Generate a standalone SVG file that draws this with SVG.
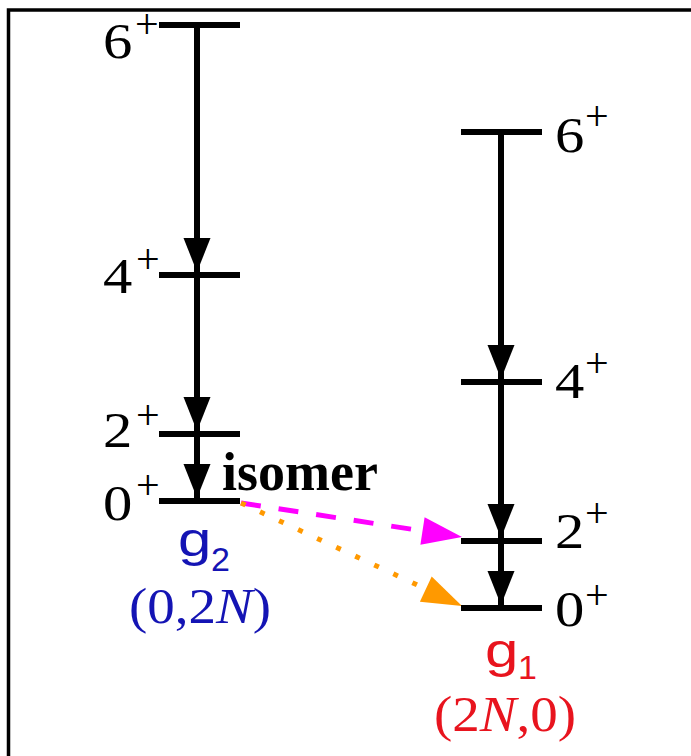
<svg xmlns="http://www.w3.org/2000/svg" width="691" height="756" viewBox="0 0 691 756">
<style>
.frame{fill:none;stroke:#000;stroke-width:3.5}
.lvl{stroke:#000;stroke-width:6;fill:none}
.tr{stroke:#000;stroke-width:6;fill:none}
.head{fill:#000}
.lbl{font-family:"Liberation Serif","Times New Roman",serif;font-size:51px;fill:#000}
.sup{font-family:"Liberation Serif","Times New Roman",serif;font-size:42px;fill:#000}
.iso{font-family:"Liberation Serif","Times New Roman",serif;font-size:54px;font-weight:bold;fill:#000}
.g{font-family:"Liberation Sans",Arial,sans-serif;font-size:48px}
.gs{font-family:"Liberation Sans",Arial,sans-serif;font-size:34px}
.q{font-family:"Liberation Serif","Times New Roman",serif;font-size:50px}
.blue{fill:#1414b4}
.red{fill:#e8141e}
</style>
<rect width="691" height="756" fill="#fff"/>
<path class="frame" d="M8.5,756 V10 H691"/>

<g id="connectors">
  <line class="tr" x1="197" y1="25" x2="197" y2="501"/>
  <polygon class="head" points="183.5,238 210.5,238 197,272"/>
  <polygon class="head" points="183.5,397 210.5,397 197,431"/>
  <polygon class="head" points="183.5,464 210.5,464 197,498"/>
  <line class="tr" x1="501" y1="132" x2="501" y2="608"/>
  <polygon class="head" points="487.5,345 514.5,345 501,379"/>
  <polygon class="head" points="487.5,504 514.5,504 501,538"/>
  <polygon class="head" points="487.5,571 514.5,571 501,605"/>
  <line x1="241" y1="503" x2="423" y2="531" stroke="#ff00ff" stroke-width="5" stroke-dasharray="20 18"/>
  <polygon points="462,537 424.6,517.2 420.4,544.8" fill="#ff00ff"/>
  <line x1="241" y1="503" x2="426" y2="589" stroke="#ff9900" stroke-width="5" stroke-dasharray="5 16"/>
  <polygon points="462,606 431.7,576.4 419.9,601.8" fill="#ff9900"/>
</g>

<g id="g2-6">
  <line class="lvl" x1="159" y1="25" x2="240" y2="25"/>
  <text class="lbl" transform="translate(103,58) scale(1.15,1)">6</text>
  <text class="sup" x="135" y="38">+</text>
</g>
<g id="g2-4">
  <line class="lvl" x1="159" y1="275" x2="240" y2="275"/>
  <text class="lbl" transform="translate(103,293) scale(1.15,1)">4</text>
  <text class="sup" x="136" y="273">+</text>
</g>
<g id="g2-2">
  <line class="lvl" x1="159" y1="434" x2="240" y2="434"/>
  <text class="lbl" transform="translate(103,447) scale(1.15,1)">2</text>
  <text class="sup" x="136" y="429">+</text>
</g>
<g id="g2-0">
  <line class="lvl" x1="159" y1="501" x2="240" y2="501"/>
  <text class="lbl" transform="translate(103,520) scale(1.15,1)">0</text>
  <text class="sup" x="136" y="499">+</text>
  <text class="iso" x="222" y="490">isomer</text>
  <text class="g blue" transform="translate(178,556) scale(1.25,1)">g</text>
  <text class="gs blue" x="211" y="571">2</text>
  <text class="q blue" transform="translate(129,623) scale(1.1,1)">(0,2<tspan font-style="italic">N</tspan>)</text>
</g>

<g id="g1-6">
  <line class="lvl" x1="461" y1="132" x2="542" y2="132"/>
  <text class="lbl" transform="translate(555,152) scale(1.15,1)">6</text>
  <text class="sup" x="585" y="130">+</text>
</g>
<g id="g1-4">
  <line class="lvl" x1="461" y1="382" x2="542" y2="382"/>
  <text class="lbl" transform="translate(555,398) scale(1.15,1)">4</text>
  <text class="sup" x="585" y="377">+</text>
</g>
<g id="g1-2">
  <line class="lvl" x1="461" y1="541" x2="542" y2="541"/>
  <text class="lbl" transform="translate(555,548) scale(1.15,1)">2</text>
  <text class="sup" x="585" y="527">+</text>
</g>
<g id="g1-0">
  <line class="lvl" x1="461" y1="608" x2="542" y2="608"/>
  <text class="lbl" transform="translate(555,626) scale(1.15,1)">0</text>
  <text class="sup" x="585" y="609">+</text>
  <text class="g red" transform="translate(485,667) scale(1.25,1)">g</text>
  <text class="gs red" x="518" y="679">1</text>
  <text class="q red" transform="translate(434,731) scale(1.1,1)">(2<tspan font-style="italic">N</tspan>,0)</text>
</g>
</svg>
